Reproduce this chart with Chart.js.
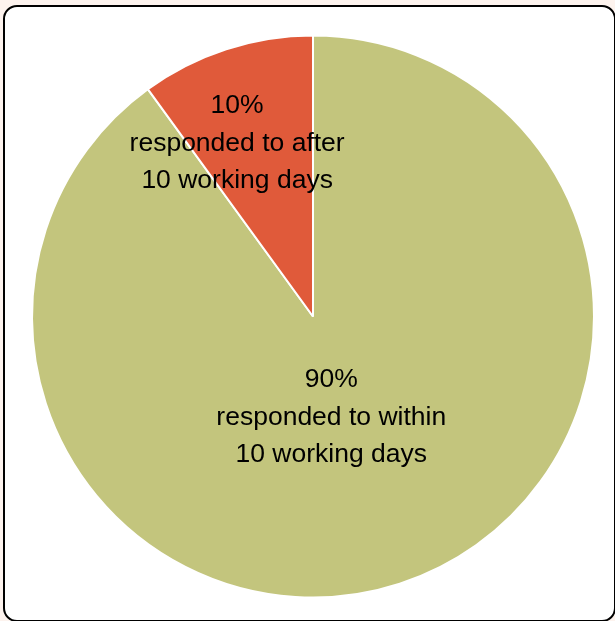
<!DOCTYPE html>
<html>
<head>
<meta charset="utf-8">
<script src="https://cdn.jsdelivr.net/npm/chart.js@4.4.1/dist/chart.umd.min.js"></script>
<style>
  html, body { margin: 0; padding: 0; background: #fdf3ee; }
  #wrap { position: relative; width: 615px; height: 621px; overflow: hidden; }
  #box {
    position: absolute; left: 3px; top: 5px; width: 609px; height: 613px;
    background: #fff; border: 2px solid #000; border-radius: 14px;
  }
  #chart { position: absolute; left: 0; top: 0; }
</style>
</head>
<body>
<div id="wrap">
  <div id="box"></div>
  <canvas id="chart" width="615" height="621"></canvas>
</div>
<script>
// Share of requests by response time
const categories = ['responded to within\n10 working days', 'responded to after\n10 working days'];
const shares = [90, 10];
const colours = ['#c3c57d', '#e05a3a'];
// label anchor offsets, as fractions of the radius from the pie centre
const labelOffsets = [[0.065, 0.36], [-0.27, -0.615]];

// Writes "NN%" plus the category text inside each slice
const sliceLabels = {
  id: 'sliceLabels',
  afterDatasetsDraw(chart) {
    const ctx = chart.ctx;
    const meta = chart.getDatasetMeta(0);
    ctx.save();
    ctx.font = '26.5px "Liberation Sans", Arial, sans-serif';
    ctx.fillStyle = '#000';
    ctx.textAlign = 'center';
    ctx.textBaseline = 'middle';
    meta.data.forEach((arc, i) => {
      const r = arc.outerRadius;
      const x = arc.x + labelOffsets[i][0] * r;
      const y = arc.y + labelOffsets[i][1] * r;
      const lines = [shares[i] + '%'].concat(categories[i].split('\n'));
      const lh = 37.5;
      lines.forEach((t, k) => {
        ctx.fillText(t, x, y + (k - (lines.length - 1) / 2) * lh);
      });
    });
    ctx.restore();
  }
};

new Chart(document.getElementById('chart'), {
  type: 'pie',
  data: {
    labels: categories,
    datasets: [{
      data: shares,
      backgroundColor: colours,
      borderColor: '#ffffff',
      borderWidth: 2
    }]
  },
  options: {
    responsive: false,
    animation: false,
    layout: { padding: { left: 31, right: 20, top: 34, bottom: 22 } },
    plugins: {
      legend: { display: false },
      tooltip: { enabled: false }
    }
  },
  plugins: [sliceLabels]
});
</script>
</body>
</html>
